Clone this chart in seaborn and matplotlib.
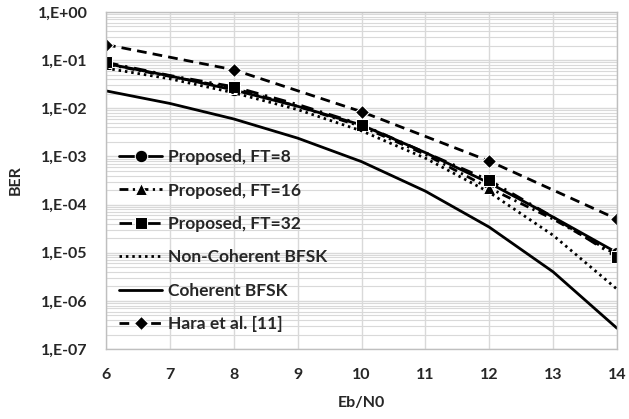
import numpy as np
import pandas as pd
import matplotlib
matplotlib.use("Agg")
import matplotlib.pyplot as plt
import seaborn as sns

# ---- data ----
ebn0 = [6, 7, 8, 9, 10, 11, 12, 13, 14]
ber_ft8 = [8.5e-2, 4.7e-2, 2.4e-2, 1.1e-2, 4.5e-3, 1.2e-3, 2.8e-4, 5.5e-5, 1.0e-5]
ber_ft16 = [8.3e-2, 4.6e-2, 2.6e-2, 1.1e-2, 4.2e-3, 1.1e-3, 2.2e-4, 5.0e-5, 9.0e-6]
ber_ft32 = [9.0e-2, 4.8e-2, 2.8e-2, 1.2e-2, 4.6e-3, 1.2e-3, 3.2e-4, 5.5e-5, 8.0e-6]
ber_noncoh = [6.8e-2, 4.1e-2, 2.1e-2, 9.4e-3, 3.4e-3, 9.2e-4, 1.8e-4, 2.3e-5, 1.75e-6]
ber_coh = [2.3e-2, 1.26e-2, 6.0e-3, 2.4e-3, 7.8e-4, 1.9e-4, 3.4e-5, 4.0e-6, 2.7e-7]
ebn0_hara = [6, 8, 10, 12, 14]
ber_hara = [2.1e-1, 6.3e-2, 8.5e-3, 8.0e-4, 5.0e-5]

labels = ["Proposed, FT=8", "Proposed, FT=16", "Proposed, FT=32",
          "Non-Coherent BFSK", "Coherent BFSK", "Hara et al. [11]"]
xtick_labels = ["6", "7", "8", "9", "10", "11", "12", "13", "14"]
ytick_values = [1e-7, 1e-6, 1e-5, 1e-4, 1e-3, 1e-2, 1e-1, 1e0]
ytick_labels = ["1,E-07", "1,E-06", "1,E-05", "1,E-04", "1,E-03", "1,E-02", "1,E-01", "1,E+00"]

sns.set_theme(style="white")
plt.rcParams['font.family'] = ['Lato', 'DejaVu Sans']
plt.rcParams['font.weight'] = 'bold'

fig = plt.figure(figsize=(6.29, 4.19), dpi=100)
ax = fig.add_axes([106/629, 1-349/419, (617-106)/629, (349-12)/419])

series = [
    (ebn0, ber_ft8, dict(linestyle='-', marker='o', markersize=9, markevery=2)),
    (ebn0, ber_ft16, dict(linestyle=(0, (3.2, 1.6, 0.8, 1.6)), marker='^', markersize=9, markevery=2)),
    (ebn0, ber_ft32, dict(linestyle=(0, (4.5, 2.5, 0.8, 2.5)), marker='s', markersize=9, markevery=2)),
    (ebn0, ber_noncoh, dict(linestyle=(0, (0.9, 1.4)))),
    (ebn0, ber_coh, dict(linestyle='-')),
    (ebn0_hara, ber_hara, dict(linestyle=(0, (3.5, 2.2)), marker='D', markersize=7)),
]
for (xs, ys, kw), lab in zip(series, labels):
    df = pd.DataFrame({"x": xs, "y": ys})
    sns.lineplot(data=df, x="x", y="y", ax=ax, color='black', linewidth=2.0,
                 label=lab, **kw)

ax.set_yscale('log')
ax.set_xlim(6, 14)
ax.set_ylim(1e-7, 1)
ax.set_xticks(ebn0)
ax.set_xticklabels(xtick_labels)
ax.set_yticks(ytick_values)
ax.set_yticklabels(ytick_labels)
ax.yaxis.set_minor_locator(matplotlib.ticker.LogLocator(base=10, subs=np.arange(2, 10), numticks=20))
ax.yaxis.set_minor_formatter(matplotlib.ticker.NullFormatter())
ax.grid(True, which='major', axis='both', color='#d9d9d9', linewidth=1.0)
ax.grid(True, which='minor', axis='y', color='#d9d9d9', linewidth=0.8)
ax.set_axisbelow(True)
for s in ax.spines.values():
    s.set_color('#bfbfbf')
    s.set_linewidth(1.0)
ax.tick_params(axis='y', which='both', length=0, labelsize=11.5, pad=13)
ax.tick_params(axis='x', which='both', length=0, labelsize=11.5, pad=14)
for t in ax.get_xticklabels() + ax.get_yticklabels():
    t.set_fontweight('bold')
ax.set_xlabel("Eb/N0", fontsize=11.5, fontweight='bold', labelpad=10)
ax.set_ylabel("BER", fontsize=11.5, fontweight='bold', labelpad=11)

leg = ax.legend(loc='lower left', bbox_to_anchor=(0.012, 0.03), frameon=False,
                prop={'weight': 'bold', 'size': 12.5}, handlelength=2.5,
                handletextpad=0.3, labelspacing=1.0, borderaxespad=0.0)

fig.savefig("out.png", dpi=100)
